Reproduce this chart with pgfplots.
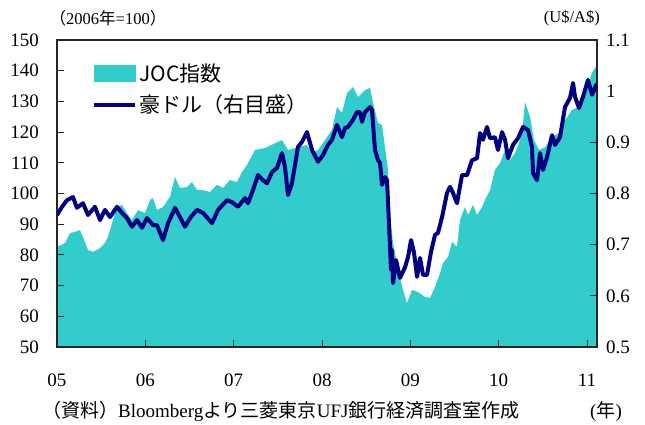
\documentclass[border=0pt]{standalone}
\usepackage{fontspec}
\setmainfont{Liberation Serif}
\newfontfamily\cjk{Noto Sans CJK JP}
\usepackage{pgfplots}
\pgfplotsset{compat=1.18}
\definecolor{joc}{RGB}{51,204,204}
\definecolor{aud}{RGB}{0,0,128}
\begin{document}
\begin{tikzpicture}
\path[use as bounding box] (-57pt,-77pt) rectangle (588pt,347pt);
\begin{axis}[
 at={(0pt,0pt)}, anchor=south west,
 scale only axis, width=540pt, height=307pt,
 xmin=0, xmax=6.113, ymin=50, ymax=150,
 xtick={0,1,2,3,4,5,6}, xticklabels={05,06,07,08,09,10,11},
 ytick={50,60,70,80,90,100,110,120,130,140,150},
 tick align=inside, xtick pos=lower, ytick pos=left,
 major tick length=7pt,
 axis line style={black!85, line width=1.3pt},
 tick style={black!85, line width=0.9pt},
 ticklabel style={font=\fontsize{19}{19}\selectfont},
 /pgf/number format/assume math mode=true,
 xticklabel shift=27pt,
 xticklabel style={inner sep=0pt, anchor=north},
 yticklabel style={inner sep=0pt, anchor=east, xshift=-18pt},
 axis on top,
]
\addplot[fill=joc, draw=none] coordinates {
(0,82.4)(0.011,82.7)(0.091,83.9)(0.147,87.1)(0.204,87.5)(0.260,88.1)(0.294,85.8)(0.351,81.6)(0.408,81.0)(0.487,82.2)(0.543,83.9)(0.577,85.8)(0.634,91.4)(0.679,95.6)(0.736,96.3)(0.792,93.6)(0.849,91.4)(0.917,94.6)(0.996,93.6)(1.053,97.9)(1.087,98.5)(1.132,94.6)(1.200,95.6)(1.279,98.9)(1.336,105.4)(1.392,101.8)(1.472,102.1)(1.528,103.7)(1.585,101.1)(1.653,101.1)(1.732,100.5)(1.811,102.8)(1.879,101.8)(1.959,104.4)(2.038,103.7)(2.094,107.0)(2.151,109.3)(2.242,114.2)(2.355,114.8)(2.468,116.4)(2.547,117.4)(2.615,114.2)(2.728,115.1)(2.830,115.8)(2.887,113.2)(2.955,114.2)(3.034,117.4)(3.113,120.7)(3.170,128.2)(3.226,126.2)(3.283,132.7)(3.351,134.7)(3.408,131.4)(3.487,133.7)(3.544,134.4)(3.578,129.5)(3.634,123.0)(3.679,122.3)(3.713,115.1)(3.747,107.7)(3.770,92.3)(3.804,83.9)(3.860,75.1)(3.917,68.6)(3.962,64.3)(4.019,68.6)(4.087,67.9)(4.166,66.3)(4.222,66.0)(4.279,69.5)(4.336,74.1)(4.370,77.4)(4.426,79.3)(4.472,84.2)(4.528,82.6)(4.562,91.4)(4.619,95.6)(4.653,93.0)(4.710,96.3)(4.755,93.0)(4.812,95.6)(4.845,97.9)(4.902,101.1)(4.958,107.7)(5.015,109.9)(5.072,114.2)(5.129,110.9)(5.185,113.2)(5.242,117.4)(5.276,123.0)(5.298,129.8)(5.355,124.9)(5.400,117.4)(5.457,114.2)(5.525,115.1)(5.604,118.4)(5.683,119.7)(5.751,123.9)(5.830,127.2)(5.909,128.2)(5.977,131.4)(6.054,139.3)(6.100,141.2)(6.113,142.5)
} \closedcycle;
\end{axis}
\begin{axis}[
 at={(0pt,0pt)}, anchor=south west,
 scale only axis, width=540pt, height=307pt,
 xmin=0, xmax=6.113, ymin=0.5, ymax=1.1,
 axis x line=none, axis y line*=right,
 ytick={0.5,0.6,0.7,0.8,0.9,1,1.1},
 tick align=inside,
 major tick length=7pt,
 axis line style={black!85, line width=1.3pt},
 tick style={black!85, line width=0.9pt},
 ticklabel style={font=\fontsize{19}{19}\selectfont},
 /pgf/number format/assume math mode=true,
 yticklabel style={inner sep=0pt, anchor=west, xshift=9pt},
 legend style={at={(0.065,0.93)}, anchor=north west, draw=none, fill=none,
   font=\cjk\fontsize{21}{21}\selectfont, row sep=8pt, inner sep=0pt,
   nodes={inner sep=2pt, anchor=west}},
 legend cell align=left,
]
\addlegendimage{legend image code/.code={\fill[joc] (0pt,-8pt) rectangle (41pt,8pt);}}
\addlegendentry{JOC指数}
\addplot[aud, line width=4pt, line join=round,
 legend image code/.code={\draw[aud, line width=4pt] (0pt,0pt) -- (41pt,0pt);}] coordinates {
(0,0.758)(0.057,0.774)(0.113,0.787)(0.181,0.793)(0.226,0.772)(0.294,0.781)(0.351,0.758)(0.430,0.774)(0.487,0.748)(0.543,0.768)(0.600,0.754)(0.679,0.774)(0.736,0.762)(0.792,0.752)(0.849,0.735)(0.906,0.748)(0.962,0.733)(1.019,0.752)(1.087,0.738)(1.132,0.738)(1.200,0.709)(1.257,0.742)(1.336,0.772)(1.392,0.754)(1.449,0.735)(1.506,0.752)(1.585,0.768)(1.653,0.762)(1.755,0.742)(1.823,0.768)(1.925,0.787)(1.981,0.783)(2.049,0.774)(2.128,0.791)(2.162,0.781)(2.219,0.807)(2.276,0.836)(2.332,0.826)(2.377,0.820)(2.434,0.842)(2.491,0.850)(2.547,0.879)(2.581,0.852)(2.615,0.797)(2.660,0.820)(2.728,0.891)(2.774,0.901)(2.830,0.920)(2.887,0.885)(2.955,0.862)(3.011,0.875)(3.068,0.895)(3.113,0.905)(3.170,0.934)(3.226,0.910)(3.260,0.928)(3.294,0.930)(3.351,0.944)(3.396,0.959)(3.430,0.959)(3.453,0.940)(3.487,0.959)(3.544,0.969)(3.566,0.963)(3.600,0.885)(3.634,0.865)(3.657,0.860)(3.679,0.817)(3.713,0.832)(3.736,0.826)(3.758,0.742)(3.781,0.651)(3.792,0.690)(3.804,0.625)(3.838,0.670)(3.883,0.635)(3.940,0.656)(3.974,0.676)(4.008,0.709)(4.042,0.684)(4.076,0.637)(4.110,0.674)(4.143,0.641)(4.189,0.641)(4.234,0.686)(4.279,0.719)(4.313,0.723)(4.359,0.754)(4.415,0.801)(4.449,0.813)(4.483,0.801)(4.528,0.781)(4.585,0.836)(4.642,0.836)(4.698,0.865)(4.755,0.869)(4.789,0.918)(4.823,0.905)(4.868,0.930)(4.902,0.908)(4.958,0.910)(4.992,0.885)(5.038,0.920)(5.072,0.905)(5.106,0.869)(5.162,0.895)(5.219,0.908)(5.276,0.930)(5.332,0.924)(5.377,0.891)(5.389,0.840)(5.434,0.826)(5.468,0.879)(5.502,0.846)(5.547,0.871)(5.604,0.914)(5.638,0.895)(5.694,0.910)(5.751,0.969)(5.808,0.987)(5.842,1.016)(5.864,0.989)(5.909,0.967)(5.955,0.989)(6.011,1.022)(6.057,0.993)(6.102,1.012)(6.113,1.010)
};
\addlegendentry{豪ドル（右目盛）}
\end{axis}
\node[font=\fontsize{16.5}{16.5}\selectfont, inner sep=0pt] at (51pt,329pt) {{\cjk （}2006{\cjk 年}=100{\cjk ）}};
\node[font=\fontsize{16.5}{16.5}\selectfont, inner sep=0pt, anchor=east] at (543pt,329pt) {(U\$/A\$)};
\node[font=\fontsize{19}{19}\selectfont, inner sep=0pt, anchor=west] at (-15pt,-64pt) {{\cjk （資料）}Bloomberg{\cjk より三菱東京}UFJ{\cjk 銀行経済調査室作成}};
\node[font=\fontsize{19}{19}\selectfont, inner sep=0pt] at (549pt,-64pt) {({\cjk 年})};
\end{tikzpicture}
\end{document}
